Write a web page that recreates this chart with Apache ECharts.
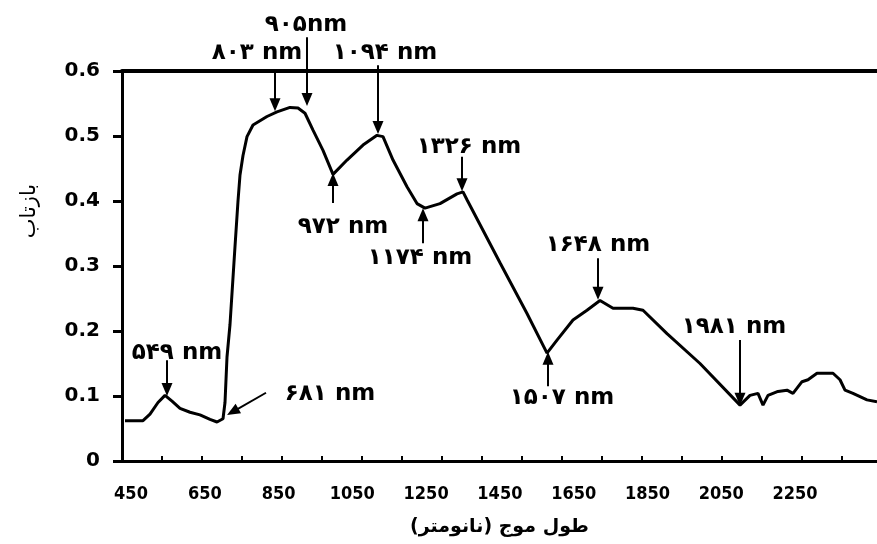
<!DOCTYPE html>
<html>
<head>
<meta charset="utf-8">
<script src="https://cdn.jsdelivr.net/npm/echarts@6/dist/echarts.min.js"></script>
<style>
html,body{margin:0;padding:0;background:#fff;}
#chart{width:877px;height:544px;}
</style>
</head>
<body>
<div id="chart"></div>
<script>
// ---- data ----
const wavelengths = [457.5, 502.5, 520, 540, 557.5, 575, 595, 620, 645, 670, 687.5, 702.5, 707.5, 712.5, 720, 732.5, 740, 745, 752.5, 762.5, 777.5, 812.5, 837.5, 870, 890, 907.5, 927.5, 952.5, 977.5, 1012.5, 1052.5, 1087.5, 1102.5, 1127.5, 1162.5, 1187.5, 1207.5, 1245, 1287.5, 1302.5, 1312.5, 1395, 1462.5, 1512.5, 1537.5, 1577.5, 1612.5, 1645, 1677.5, 1727.5, 1752.5, 1812.5, 1895, 1995, 2020, 2040, 2052.5, 2065, 2090, 2112.5, 2127.5, 2150, 2165, 2187.5, 2227.5, 2245, 2257.5, 2277.5, 2312.5, 2337.5];
const reflectance = [0.062, 0.062, 0.072, 0.09, 0.101, 0.092, 0.081, 0.075, 0.071, 0.064, 0.060, 0.065, 0.09, 0.16, 0.21, 0.33, 0.40, 0.44, 0.47, 0.499, 0.517, 0.530, 0.537, 0.544, 0.543, 0.535, 0.509, 0.478, 0.441, 0.463, 0.486, 0.501, 0.499, 0.463, 0.422, 0.396, 0.389, 0.396, 0.411, 0.414, 0.402, 0.305, 0.227, 0.166, 0.186, 0.217, 0.232, 0.247, 0.235, 0.235, 0.232, 0.196, 0.150, 0.086, 0.101, 0.104, 0.086, 0.101, 0.107, 0.109, 0.104, 0.122, 0.125, 0.135, 0.135, 0.125, 0.109, 0.104, 0.094, 0.091];

const xTickValues = [550, 650, 750, 850, 950, 1050, 1150, 1250, 1350, 1450, 1550, 1650, 1750, 1850, 1950, 2050, 2150, 2250];
const xTickLabels = [450, 650, 850, 1050, 1250, 1450, 1650, 1850, 2050, 2250];

// annotations: text, arrow tail [nm, value], arrow head centre [nm, value], label anchor [nm, value]
const annoText  = ['۵۴۹ nm', '۸۰۳ nm', '۹۰۵nm', '۱۰۹۴ nm', '۹۷۲ nm', '۱۱۷۴ nm', '۱۳۲۶ nm', '۱۶۴۸ nm', '۱۵۰۷ nm', '۱۹۸۱ nm', '۶۸۱ nm'];
const arrowTail = [[562.5,0.155],[832.5,0.598],[912.5,0.652],[1090,0.609],[977.5,0.397],[1202.5,0.335],[1300,0.468],[1640,0.312],[1515,0.115],[1995,0.186],[810,0.105]];
const arrowTip  = [[562.5,0.110],[832.5,0.548],[912.5,0.556],[1090,0.513],[977.5,0.433],[1202.5,0.379],[1300,0.425],[1640,0.258],[1515,0.158],[1995,0.095],[726.7,0.0757]];
const labelAt   = [[587.5,0.166],[787.5,0.628],[910,0.671],[1107.5,0.628],[1002.5,0.360],[1195,0.312],[1317.5,0.483],[1640,0.332],[1550,0.097],[1980,0.206],[970,0.103]];

const chart = echarts.init(document.getElementById('chart'), null, {renderer:'canvas'});
const fa = 'DejaVu Sans';
const RLM = '\u200F';
chart.setOption({
  animation:false,
  backgroundColor:'#fff',
  grid:[
    {left:122, right:0, top:71, bottom:83, containLabel:false},
    {left:122, right:0, top:6, bottom:83, containLabel:false}
  ],
  xAxis:[
    {type:'value', gridIndex:0, min:450, max:2337.5, position:'bottom',
     axisLine:{show:true, onZero:false, lineStyle:{color:'#000', width:3}},
     axisTick:{show:true, inside:true, length:5, customValues:xTickValues, lineStyle:{color:'#000', width:2}},
     axisLabel:{show:false}, splitLine:{show:false},
     name:RLM + 'طول موج (نانومتر)' + RLM, nameLocation:'middle', nameGap:57,
     nameTextStyle:{fontFamily:fa, fontWeight:'bold', fontSize:19, color:'#000'}},
    {type:'value', gridIndex:0, min:425.6, max:2472.3, position:'bottom',
     axisLine:{show:false}, axisTick:{show:false}, splitLine:{show:false},
     axisLabel:{show:true, customValues:xTickLabels, formatter:v=>String(v), margin:24, fontFamily:'DejaVu Sans Condensed', fontWeight:'bold', fontSize:18, color:'#000'}},
    {type:'value', gridIndex:0, min:450, max:2337.5, position:'top',
     axisLine:{show:true, onZero:false, lineStyle:{color:'#000', width:4}},
     axisTick:{show:false}, axisLabel:{show:false}, splitLine:{show:false}},
    {type:'value', gridIndex:1, min:450, max:2337.5, show:false}
  ],
  yAxis:[
    {type:'value', gridIndex:0, min:0, max:0.6, interval:0.1,
     axisLine:{show:true, lineStyle:{color:'#000', width:3}},
     axisTick:{show:true, inside:false, length:9, lineStyle:{color:'#000', width:3}},
     axisLabel:{margin:22, fontFamily:fa, fontWeight:'bold', fontSize:20, color:'#000'},
     splitLine:{show:false},
     name:'بازتاب', nameLocation:'middle', nameGap:82, nameRotate:90,
     nameTextStyle:{fontFamily:fa, fontSize:21, color:'#000', padding:[0,0,0,110]}},
    {type:'value', gridIndex:1, min:0, max:0.7, show:false}
  ],
  series:[
    {
      type:'line', xAxisIndex:0, yAxisIndex:0, clip:false,
      data: wavelengths.map((w,i)=>[w, reflectance[i]]),
      symbol:'none', smooth:false,
      lineStyle:{color:'#000', width:3}
    },
    {
      type:'line', xAxisIndex:3, yAxisIndex:1, data:[], symbol:'none',
      markLine:{
        silent:true, symbol:['none','triangle'], symbolSize:[11,13],
        lineStyle:{color:'#000', width:2, type:'solid'}, label:{show:false},
        data: arrowTail.map((t,i)=>[{coord:t},{coord:arrowTip[i]}])
      },
      markPoint:{
        silent:true, symbol:'circle', symbolSize:0,
        label:{show:true, position:'inside', fontFamily:fa, fontWeight:'bold', fontSize:23, color:'#000', formatter:p=>p.name},
        data: labelAt.map((c,i)=>({name:annoText[i], coord:c}))
      }
    }
  ]
});
</script>
</body>
</html>
